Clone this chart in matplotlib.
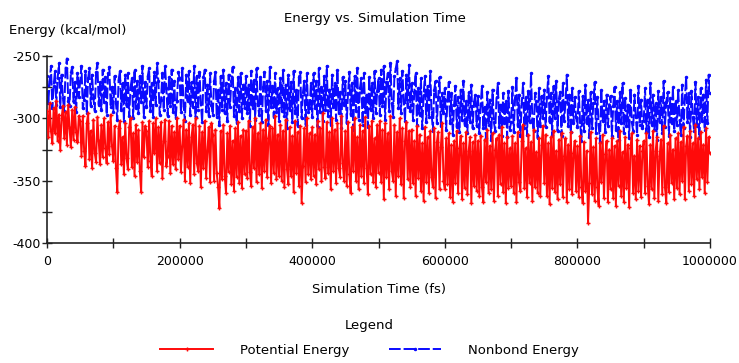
import numpy as np
import matplotlib
matplotlib.use('Agg')
import matplotlib.pyplot as plt
from matplotlib.ticker import MultipleLocator

# sample times (fs), one reading every 2000 fs
time_fs = np.arange(0, 1000001, 2000)

# Nonbond energy (kcal/mol), 25 readings per 50000 fs
nonbond = [
    -266, -288, -270, -258, -292, -274, -262, -289, -268, -256, -291, -265, -284, -294, -260, -252, -286, -290, -263, -259, -287, -271, -295, -264, -283,
    -270, -258, -292, -285, -262, -296, -268, -260, -290, -265, -284, -294, -263, -256, -289, -271, -293, -261, -287, -267, -297, -264, -259, -291, -275,
    -295, -266, -288, -301, -269, -262, -293, -272, -302, -265, -290, -264, -298, -275, -268, -300, -261, -292, -270, -296, -266, -287, -258, -299, -271,
    -291, -266, -260, -294, -272, -299, -263, -289, -256, -270, -297, -285, -264, -293, -258, -276, -298, -267, -290, -261, -295, -270, -300, -286, -263,
    -268, -295, -260, -290, -302, -265, -286, -262, -297, -271, -291, -258, -299, -266, -293, -263, -288, -303, -267, -261, -294, -273, -298, -264, -289,
    -297, -270, -263, -299, -277, -305, -266, -293, -261, -296, -272, -302, -265, -291, -270, -259, -298, -276, -304, -267, -294, -264, -300, -273, -292,
    -266, -296, -273, -306, -262, -292, -269, -301, -260, -289, -297, -267, -303, -275, -263, -294, -270, -305, -259, -291, -274, -299, -264, -295, -276,
    -302, -268, -294, -261, -298, -273, -308, -265, -293, -271, -303, -262, -296, -277, -306, -267, -263, -300, -279, -270, -305, -264, -295, -292, -272,
    -299, -264, -292, -270, -307, -260, -295, -275, -302, -266, -293, -258, -298, -277, -305, -265, -291, -272, -301, -261, -296, -279, -308, -267, -289,
    -270, -304, -280, -263, -297, -272, -309, -266, -294, -260, -301, -276, -268, -305, -264, -295, -281, -307, -267, -293, -272, -300, -262, -296, -278,
    -268, -297, -261, -290, -258, -301, -271, -264, -294, -256, -288, -299, -266, -260, -254, -292, -268, -296, -262, -286, -302, -265, -291, -257, -294,
    -272, -301, -279, -264, -305, -276, -297, -268, -308, -281, -266, -303, -274, -299, -262, -295, -310, -277, -270, -304, -283, -267, -306, -280, -296,
    -276, -309, -285, -271, -304, -280, -313, -289, -274, -307, -283, -311, -277, -301, -270, -305, -286, -312, -279, -303, -273, -308, -287, -281, -306,
    -282, -312, -289, -274, -308, -291, -316, -279, -305, -285, -317, -277, -303, -310, -283, -272, -307, -289, -314, -280, -304, -286, -315, -278, -309,
    -303, -275, -311, -284, -268, -306, -281, -314, -288, -272, -308, -283, -313, -278, -303, -264, -301, -310, -280, -286, -316, -276, -306, -282, -300,
    -277, -307, -283, -266, -303, -280, -313, -274, -300, -270, -310, -284, -279, -314, -272, -302, -287, -265, -306, -281, -311, -276, -304, -283, -299,
    -307, -278, -303, -318, -282, -310, -273, -304, -285, -315, -279, -308, -288, -271, -312, -283, -305, -319, -277, -302, -286, -311, -281, -306, -289,
    -282, -314, -290, -275, -309, -286, -317, -279, -304, -272, -312, -284, -306, -289, -316, -277, -303, -310, -281, -299, -313, -274, -305, -285, -308,
    -302, -276, -311, -285, -315, -272, -305, -281, -309, -288, -317, -278, -303, -283, -312, -270, -307, -287, -279, -314, -284, -304, -275, -310, -286,
    -305, -277, -301, -313, -273, -308, -284, -267, -303, -280, -315, -278, -299, -310, -271, -306, -283, -316, -276, -302, -281, -309, -269, -304, -265,
    -280,
]

# Potential energy (kcal/mol), 25 readings per 50000 fs
potential = [
    -294, -315, -288, -310, -320, -292, -312, -286, -318, -297, -325, -300, -290, -316, -295, -321, -289, -308, -323, -293, -317, -291, -311, -319, -298,
    -302, -330, -298, -326, -338, -304, -296, -333, -310, -340, -301, -328, -335, -299, -318, -337, -305, -331, -300, -324, -336, -303, -329, -297, -322,
    -334, -306, -340, -359, -308, -302, -337, -315, -345, -304, -332, -341, -307, -300, -339, -312, -346, -305, -335, -309, -342, -359, -303, -331, -306,
    -310, -339, -302, -334, -346, -304, -328, -300, -342, -307, -336, -303, -348, -318, -301, -338, -330, -302, -344, -306, -337, -311, -341, -300, -333,
    -306, -343, -322, -301, -350, -309, -339, -304, -352, -315, -305, -345, -300, -336, -342, -306, -355, -311, -340, -302, -348, -326, -307, -351, -304,
    -313, -350, -309, -344, -355, -372, -310, -349, -305, -346, -360, -312, -343, -306, -353, -318, -358, -308, -347, -303, -352, -314, -356, -309, -345,
    -310, -348, -302, -343, -354, -307, -340, -300, -351, -312, -345, -304, -356, -309, -342, -301, -347, -316, -306, -352, -308, -344, -298, -349, -313,
    -346, -305, -350, -310, -355, -301, -341, -353, -307, -346, -314, -359, -302, -344, -311, -354, -306, -368, -338, -308, -351, -300, -345, -312, -349,
    -307, -346, -313, -353, -302, -341, -308, -350, -296, -339, -348, -303, -344, -311, -357, -300, -342, -309, -352, -304, -340, -347, -298, -336, -350,
    -310, -354, -303, -345, -360, -307, -342, -300, -350, -315, -357, -305, -346, -310, -352, -299, -340, -361, -306, -345, -302, -351, -316, -355, -305,
    -344, -302, -351, -309, -365, -304, -347, -312, -357, -298, -342, -350, -305, -362, -311, -346, -300, -353, -308, -364, -318, -303, -349, -310, -355,
    -309, -352, -318, -362, -306, -348, -313, -358, -320, -366, -307, -351, -315, -360, -310, -347, -355, -308, -364, -319, -311, -357, -323, -304, -350,
    -357, -316, -353, -312, -363, -321, -367, -318, -352, -310, -360, -324, -314, -365, -320, -356, -311, -361, -326, -315, -368, -319, -354, -313, -358,
    -318, -362, -314, -355, -367, -317, -351, -309, -360, -322, -357, -312, -366, -325, -316, -362, -313, -353, -307, -359, -320, -368, -315, -356, -324,
    -354, -314, -360, -320, -367, -311, -351, -358, -318, -305, -356, -324, -363, -313, -352, -319, -366, -309, -355, -327, -360, -316, -362, -321, -306,
    -352, -313, -362, -320, -369, -315, -356, -310, -359, -326, -365, -317, -353, -312, -363, -330, -316, -367, -321, -357, -311, -361, -328, -318, -358,
    -322, -363, -314, -355, -368, -319, -358, -326, -384, -352, -311, -361, -323, -366, -316, -355, -370, -320, -351, -313, -364, -329, -318, -367, -325,
    -357, -316, -364, -322, -370, -318, -354, -310, -362, -327, -367, -315, -356, -321, -371, -324, -312, -360, -330, -365, -317, -358, -322, -363, -326,
    -318, -360, -312, -354, -369, -321, -357, -310, -364, -326, -315, -366, -330, -317, -361, -306, -355, -368, -320, -359, -313, -352, -325, -365, -316,
    -356, -312, -361, -319, -350, -307, -365, -322, -314, -358, -310, -353, -320, -362, -305, -349, -316, -357, -311, -347, -321, -360, -308, -351, -315,
    -328,
]

x_ticks = [0, 200000, 400000, 600000, 800000, 1000000]
y_ticks = [-400, -350, -300, -250]

plt.rcParams['font.family'] = ['DejaVu Sans']
plt.rcParams['axes.unicode_minus'] = False

fig = plt.figure(figsize=(7.39, 3.63), dpi=100)
ax = fig.add_axes([0.0636, 0.3306, 0.8972, 0.5151])

ax.plot(time_fs, potential, color='#ff0a0a', lw=1.4, marker='+', ms=3.5,
        mew=1.0, label='Potential Energy', zorder=3)
ax.plot(time_fs, nonbond, color='#0a0aff', lw=1.4, ls=(0, (6, 1.5)),
        marker='.', ms=3, label='Nonbond Energy', zorder=2)

ax.set_xlim(0, 1000000)
ax.set_ylim(-400, -250)
ax.set_xticks(x_ticks)
ax.set_xticklabels([str(t) for t in x_ticks])
ax.set_yticks(y_ticks)
ax.xaxis.set_minor_locator(MultipleLocator(100000))
ax.yaxis.set_minor_locator(MultipleLocator(25))
ax.tick_params(which='both', direction='inout', length=7, width=1,
               colors='#222222', labelsize=9, labelcolor='black')
ax.tick_params(axis='x', pad=5)
ax.tick_params(axis='y', pad=1)
for s in ['top', 'right']:
    ax.spines[s].set_visible(False)
for s in ['left', 'bottom']:
    ax.spines[s].set_color('#222222')
    ax.spines[s].set_linewidth(1.2)

fig.text(0.507, 0.95, 'Energy vs. Simulation Time', ha='center', va='center', fontsize=9.5)
fig.text(0.012, 0.915, 'Energy (kcal/mol)', ha='left', va='center', fontsize=9.5)
ax.set_xlabel('Simulation Time (fs)', fontsize=9.5, labelpad=11)

leg = fig.legend(loc='lower center', bbox_to_anchor=(0.5, -0.015), ncol=2,
                 frameon=False, title='Legend', fontsize=9.5, title_fontsize=9.5,
                 handlelength=4, columnspacing=3, handletextpad=2, labelspacing=0.3)
leg._legend_box.sep = 8

fig.savefig('out.png', dpi=100)
